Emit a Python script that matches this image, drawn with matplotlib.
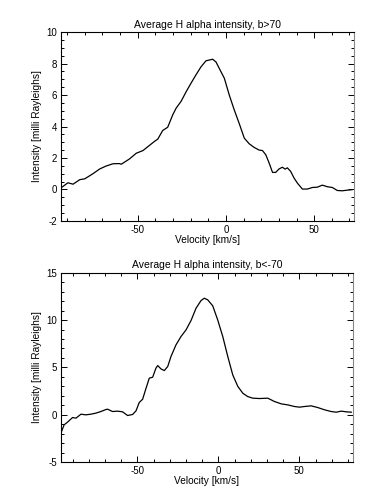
import matplotlib
matplotlib.use('Agg')
import matplotlib.pyplot as plt
from matplotlib.ticker import MultipleLocator

# top panel, b>70
vel_north = [-93.6, -90.4, -89.5, -86.6, -82.8, -80.0, -75.3, -71.5, -68, -64.0, -60.3, -59.3,
             -54.6, -50.8, -47.0, -43.3, -40.5, -38.6, -35.8, -33.0, -30.1, -28.2, -25.4,
             -22.6, -19.8, -16.9, -14.1, -11.3, -7.5, -5.6, -3.8, -0.9, 1.9, 4.7, 7.5,
             10.4, 13.2, 16.0, 18.8, 20.7, 22.6, 24.5, 26.4, 28.2, 30.1, 32.0, 33.5, 34.8,
             36.7, 38.6, 40.5, 43.3, 46.1, 49.0, 51.8, 54.6, 57.4, 60.3, 63.1, 65.9, 68.7, 71.5]
int_north = [0.08, 0.35, 0.42, 0.33, 0.62, 0.67, 1.0, 1.3, 1.48, 1.63, 1.64, 1.6,
             1.94, 2.3, 2.47, 2.8, 3.05, 3.2, 3.75, 3.95, 4.75, 5.17, 5.6,
             6.2, 6.75, 7.3, 7.8, 8.18, 8.28, 8.1, 7.7, 7.07, 6.0, 5.06, 4.2,
             3.26, 2.9, 2.67, 2.5, 2.47, 2.2, 1.67, 1.08, 1.08, 1.3, 1.41, 1.29, 1.37,
             1.14, 0.72, 0.4, 0.02, 0.02, 0.12, 0.14, 0.27, 0.17, 0.12, -0.07, -0.09, -0.05, -0.02]

# bottom panel, b<-70
vel_south = [-97.3, -95.3, -93.2, -90.1, -88.0, -84.9, -81.9, -78.8, -75.7, -72.6, -69.5,
             -68.5, -65.4, -62.3, -59.2, -56.1, -53.0, -50.9, -48.9, -46.8, -44.7, -42.7,
             -40.6, -38.6, -37.5, -35.5, -33.4, -31.3, -29.3, -26.2, -23.1, -20.0, -16.9,
             -13.8, -10.7, -8.7, -6.6, -3.5, -0.4, 2.7, 5.8, 8.9, 12.0, 15.1, 18.1, 21.2,
             25.4, 30.5, 34.6, 38.8, 42.9, 47.0, 50.1, 53.2, 57.3, 61.4, 65.6, 69.7, 72.8,
             75.9, 79.0, 82.1]
int_south = [-1.93, -1.05, -0.77, -0.28, -0.35, 0.07, 0.0, 0.07, 0.18, 0.35, 0.56,
             0.6, 0.35, 0.39, 0.32, -0.07, 0.04, 0.42, 1.3, 1.65, 2.81, 3.87,
             3.97, 4.92, 5.2, 4.85, 4.67, 5.1, 6.15, 7.38, 8.26, 8.96, 9.95,
             11.25, 12.06, 12.3, 12.13, 11.5, 10.0, 8.26, 6.15, 4.2, 3.0, 2.28, 1.93, 1.76,
             1.72, 1.76, 1.41, 1.16, 1.05, 0.88, 0.81, 0.88, 0.95, 0.77, 0.53, 0.35, 0.28,
             0.39, 0.32, 0.28]

plt.rcParams['font.family'] = 'Liberation Sans'
plt.rcParams['font.size'] = 7.3
plt.rcParams['axes.unicode_minus'] = False

fig = plt.figure(figsize=(3.83, 5.03), dpi=100)


def style(ax, ymin, ymax, ymajor, yminor, xlim):
    ax.set_xlim(*xlim)
    ax.set_ylim(ymin, ymax)
    ax.xaxis.set_major_locator(MultipleLocator(50))
    ax.xaxis.set_minor_locator(MultipleLocator(10))
    ax.yaxis.set_major_locator(MultipleLocator(ymajor))
    ax.yaxis.set_minor_locator(MultipleLocator(yminor))
    ax.tick_params(which='both', direction='in', top=True, right=True, width=0.7, labelsize=7, pad=3)
    ax.tick_params(which='major', length=4)
    ax.tick_params(which='minor', length=2)
    for s in ax.spines.values():
        s.set_linewidth(0.8)
    ax.spines['right'].set_color('#888888')
    ax.set_xlabel('Velocity [km/s]', labelpad=0)
    ax.set_ylabel('Intensity [milli Rayleighs]', labelpad=3)


ax1 = fig.add_axes([0.159, 0.561, 0.765, 0.375])
ax1.plot(vel_north, int_north, color='black', linewidth=0.9)
style(ax1, -2, 10, 2, 0.5, (-93.5, 72.5))
ax1.set_title('Average H alpha intensity, b>70', fontsize=7.5, pad=3)

ax2 = fig.add_axes([0.159, 0.081, 0.762, 0.377])
ax2.plot(vel_south, int_south, color='black', linewidth=0.9)
style(ax2, -5, 15, 5, 1, (-97.3, 83))
ax2.set_title('Average H alpha intensity, b<-70', fontsize=7.5, pad=3)

fig.savefig('out.png', dpi=100)
